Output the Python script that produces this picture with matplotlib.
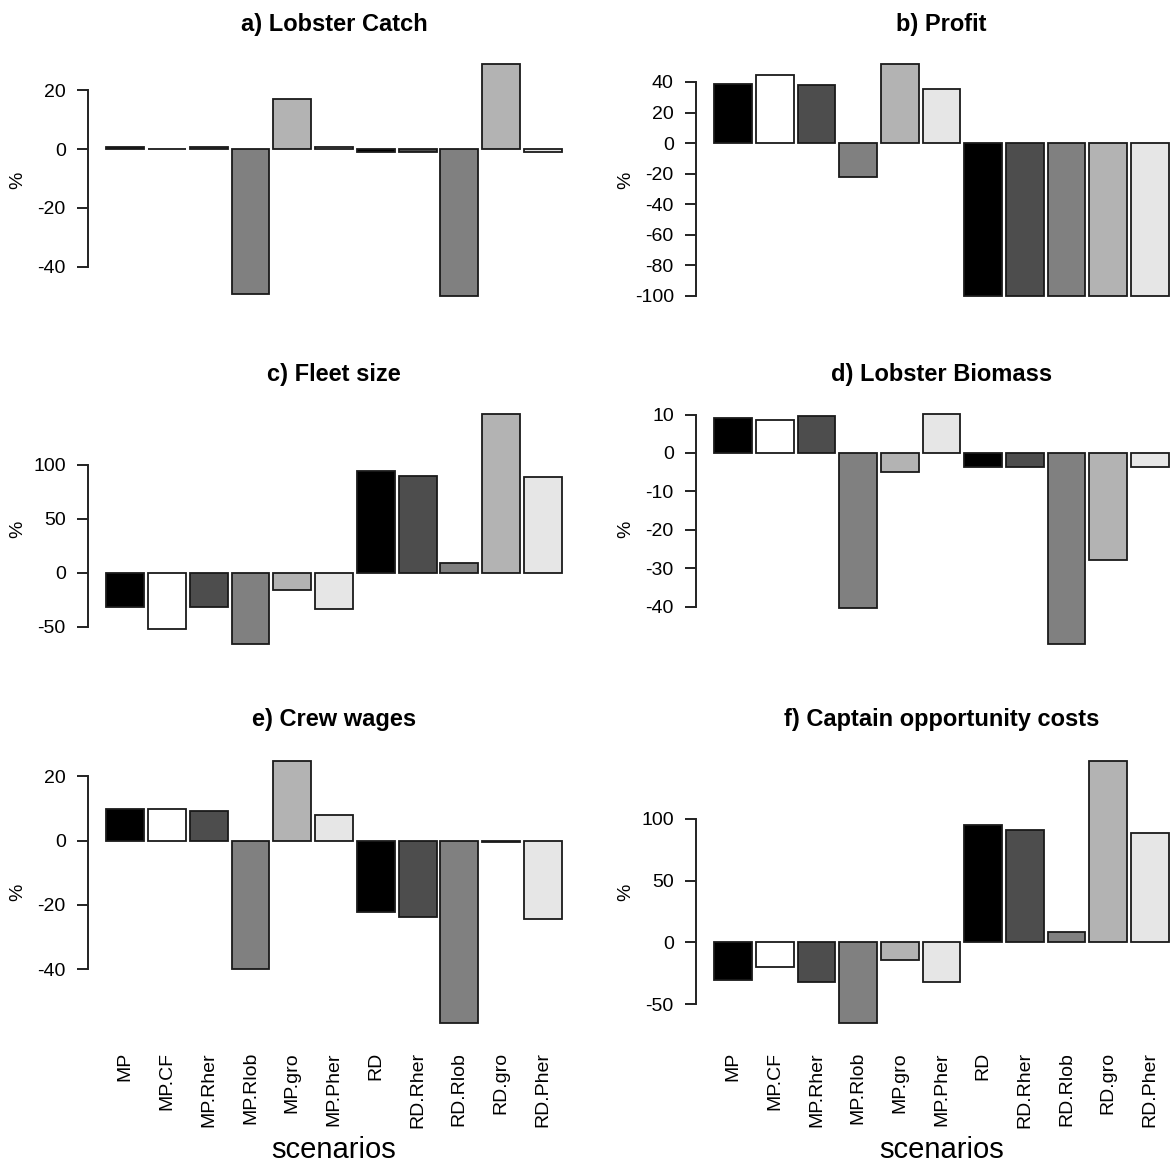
import matplotlib
matplotlib.use("Agg")
import matplotlib.pyplot as plt
import numpy as np

plt.rcParams['font.family'] = ['Liberation Sans', 'DejaVu Sans']

# scenarios
scenarios = ["MP", "MP.CF", "MP.Rher", "MP.Rlob", "MP.gro", "MP.Pher",
             "RD", "RD.Rher", "RD.Rlob", "RD.gro", "RD.Pher"]
barColors = ["#000000", "#ffffff", "#4d4d4d", "#808080", "#b3b3b3", "#e6e6e6",
             "#000000", "#4d4d4d", "#808080", "#b3b3b3", "#e6e6e6"]

# % change per scenario
lobsterCatch = [0.7, 0.1, 0.7, -49.4, 17.2, 0.7, -0.9, -0.9, -49.9, 28.9, -0.9]
profit = [38.6, 44.3, 38.0, -22.0, 51.6, 35.6, -100, -100, -100, -100, -100]
fleetSize = [-32.0, -52.0, -31.6, -66.0, -15.8, -33.4, 93.8, 89.8, 8.7, 146.7, 88.2]
lobsterBiomass = [9.2, 8.7, 9.7, -40.5, -5.0, 10.1, -3.7, -3.7, -49.7, -27.9, -3.6]
crewWages = [9.8, 9.9, 9.2, -40.0, 24.9, 8.1, -22.2, -23.8, -56.9, -0.6, -24.4]
captainCosts = [-30.7, -20.2, -32.0, -65.5, -14.0, -32.0, 94.6, 90.6, 8.6, 147.0, 88.4]

titles = ["a) Lobster Catch", "b) Profit", "c) Fleet size",
          "d) Lobster Biomass", "e) Crew wages", "f) Captain opportunity costs"]
panelData = [lobsterCatch, profit, fleetSize, lobsterBiomass, crewWages, captainCosts]
# y axis ticks (from, to, step)
yTicks = [(-40, 20, 20), (-100, 40, 20), (-50, 100, 50),
          (-40, 10, 10), (-40, 20, 20), (-50, 100, 50)]

W, H = 1172, 1168
fig = plt.figure(figsize=(W / 100, H / 100), dpi=100)

# plot regions in pixels (left, right, top, bottom)
colX = [(88, 580), (696, 1187)]
rowY = [(55, 305), (405, 653), (750, 1034)]


def r_barplot(ax, values, title, tk, showNames, wpx, hpx):
    n = len(values)
    space = 0.1
    lefts = space + np.arange(n) * (1 + space)
    centers = lefts + 0.5
    ax.bar(centers, values, width=1.0, color=barColors, edgecolor="#1a1a1a", linewidth=1.3)

    # R style 4% padding
    xmin, xmax = lefts[0], lefts[-1] + 1
    pad = 0.04 * (xmax - xmin)
    ax.set_xlim(xmin - pad, xmax + pad)
    ymin, ymax = min(min(values), 0), max(max(values), 0)
    pad = 0.04 * (ymax - ymin)
    ax.set_ylim(ymin - pad, ymax + pad)

    ticks = np.arange(tk[0], tk[1] + 1, tk[2])
    ax.set_yticks(ticks)
    ax.set_yticklabels(["%d" % t for t in ticks])
    for s in ["top", "right", "bottom"]:
        ax.spines[s].set_visible(False)
    ax.spines["left"].set_bounds(ticks[0], ticks[-1])
    ax.spines["left"].set_linewidth(1.4)
    ax.spines["left"].set_color("#222222")
    ax.tick_params(axis="y", length=8, width=1.4, color="#222222", pad=8, labelsize=14)

    if showNames:
        ax.set_xticks(centers)
        ax.set_xticklabels(scenarios, rotation=90, fontsize=14)
        ax.tick_params(axis="x", length=0, pad=13)
        ax.set_xlabel("scenarios", fontsize=21, va="center")
        ax.xaxis.set_label_coords(0.5, -116 / hpx)
    else:
        ax.set_xticks([])

    ax.set_ylabel("%", fontsize=14, va="center")
    ax.yaxis.set_label_coords(-70 / wpx, 0.5)
    ax.set_title(title, fontsize=17, fontweight="bold", pad=17)


for i, vals in enumerate(panelData):
    row, col = i // 2, i % 2
    x0, x1 = colX[col]
    y0, y1 = rowY[row]
    ax = fig.add_axes([x0 / W, 1 - y1 / H, (x1 - x0) / W, (y1 - y0) / H])
    ax.patch.set_alpha(0)
    r_barplot(ax, vals, titles[i], yTicks[i], row == 2, x1 - x0, y1 - y0)

fig.savefig("out.png", dpi=100)
